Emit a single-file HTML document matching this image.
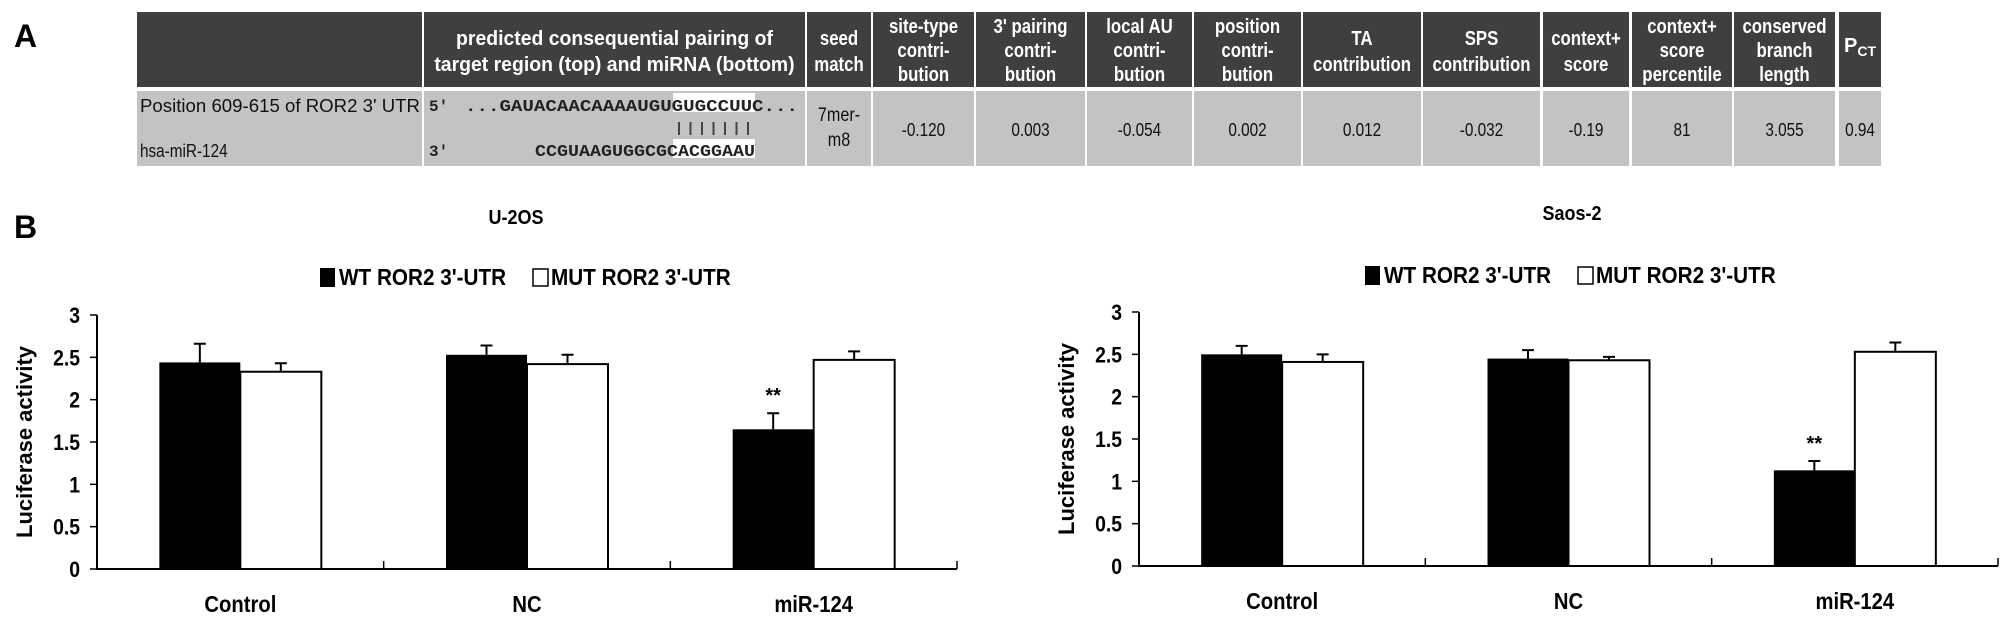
<!DOCTYPE html>
<html><head><meta charset="utf-8"><style>
html,body{margin:0;padding:0;background:#fff;}
svg{display:block;font-family:"Liberation Sans",Arial,sans-serif;}
</style></head><body>
<svg id="fig" width="2008" height="625" viewBox="0 0 2008 625" xmlns="http://www.w3.org/2000/svg">
<text x="14" y="47" font-size="32" font-weight="bold">A</text>
<g id="table"></g>
<text x="14" y="238" font-size="32" font-weight="bold">B</text>
<g id="chart1"></g>
<g id="chart2"></g>
</svg>
<script>
const categories = ["Control", "NC", "miR-124"];
const seriesNames = ["WT ROR2 3'-UTR", "MUT ROR2 3'-UTR"];
const u2osWT = [2.44, 2.53, 1.65];
const u2osWTErr = [0.22, 0.11, 0.19];
const u2osMUT = [2.33, 2.42, 2.47];
const u2osMUTErr = [0.10, 0.11, 0.10];
const saosWT = [2.50, 2.45, 1.13];
const saosWTErr = [0.10, 0.10, 0.11];
const saosMUT = [2.41, 2.43, 2.53];
const saosMUTErr = [0.09, 0.04, 0.11];
const yTicks = ["0", "0.5", "1", "1.5", "2", "2.5", "3"];
const sigMarks = ["", "", "**"];

const NS = "http://www.w3.org/2000/svg";
function mk(tag, attrs, parent, txt) {
  const e = document.createElementNS(NS, tag);
  for (const k in attrs) e.setAttribute(k, attrs[k]);
  if (txt !== undefined) e.textContent = txt;
  parent.appendChild(e);
  return e;
}
function condense(t, f, maxW) {
  const w = t.getComputedTextLength();
  let nw = w * f;
  if (maxW && nw > maxW) nw = maxW;
  t.setAttribute('textLength', nw.toFixed(1));
  t.setAttribute('lengthAdjust', 'spacingAndGlyphs');
}

/* ---------- TABLE ---------- */
const tg = document.getElementById('table');
const cols = [[137,422],[424,805],[807,871],[873,974],[976,1085],[1087,1192],[1194,1301],[1303,1421],[1423,1540],[1543,1629],[1632,1732],[1734,1835],[1839,1881]];
const headers = [[], ["predicted consequential pairing of","target region (top) and miRNA (bottom)"], ["seed","match"],
 ["site-type","contri-","bution"],["3' pairing","contri-","bution"],["local AU","contri-","bution"],["position","contri-","bution"],
 ["TA","contribution"],["SPS","contribution"],["context+","score"],["context+","score","percentile"],["conserved","branch","length"],["P"]];
const values = [null,null,null,"-0.120","0.003","-0.054","0.002","0.012","-0.032","-0.19","81","3.055","0.94"];
cols.forEach((c,i)=>{
  const h = mk('rect',{x:c[0],y:12,width:c[1]-c[0],height:75,fill:'#3f3f3f'},tg);
  
  
  const r = mk('rect',{x:c[0],y:91,width:c[1]-c[0],height:75,fill:'#c3c3c3'},tg);
  
  
  const cx=(c[0]+c[1])/2;
  const lines=headers[i];
  const n=lines.length;
  const startY = n===3 ? 33 : (n===2 ? 45 : 52);
  lines.forEach((l,j)=>{
    const t = mk('text',{x:cx,y:startY+j*(n===3?24:26),'font-size':20,'font-weight':'bold',fill:'#fff','text-anchor':'middle'},tg,l);
    
    
    if(i===12){ mk('tspan',{'font-size':14,dy:4},t,'CT'); }
    else condense(t, i===1 ? 0.97 : 0.84, c[1]-c[0]-3);
  });
  if(values[i]){
    const v = mk('text',{x:cx,y:136,'font-size':18,fill:'#111','text-anchor':'middle'},tg,values[i]);
    
    
    condense(v, 0.85);
  }
});
const seedT = mk('text',{x:839,y:121,'font-size':19,fill:'#111','text-anchor':'middle'},tg,'7mer-');
 
condense(seedT,0.85);
const m8 = mk('text',{x:839,y:146,'font-size':19,fill:'#111','text-anchor':'middle'},tg,'m8');
condense(m8,0.85);
const p1 = mk('text',{x:140,y:112,'font-size':18,fill:'#111',textLength:280,lengthAdjust:'spacingAndGlyphs'},tg,"Position 609-615 of ROR2 3' UTR");
 
const p2 = mk('text',{x:140,y:157,'font-size':18,fill:'#111'},tg,"hsa-miR-124");
 
condense(p2,0.85);
mk('rect',{x:673,y:93,width:82,height:19,fill:'#fff'},tg);
mk('rect',{x:673,y:139,width:82,height:19,fill:'#fff'},tg);
mk('text',{x:429,y:111,'font-size':16,'font-family':'Liberation Mono,monospace','font-weight':'bold',fill:'#222'},tg,"5'");
mk('text',{x:429,y:156,'font-size':16,'font-family':'Liberation Mono,monospace','font-weight':'bold',fill:'#222'},tg,"3'");
const s1 = mk('text',{x:465,y:111,'font-size':17,'font-family':'Liberation Mono,monospace','font-weight':'bold',fill:'#222',textLength:333,lengthAdjust:'spacingAndGlyphs'},tg,"...GAUACAACAAAAUGUGUGCCUUC...");
 
const s2 = mk('text',{x:535,y:156,'font-size':17,'font-family':'Liberation Mono,monospace','font-weight':'bold',fill:'#222',textLength:220,lengthAdjust:'spacingAndGlyphs'},tg,"CCGUAAGUGGCGCACGGAAU");
 
for(let k=0;k<7;k++){ mk('rect',{x:678+k*11.5,y:122,width:2,height:13,fill:'#444'},tg); }

/* ---------- CHARTS ---------- */
function drawChart(gid, o, wt, wtErr, mut, mutErr, title) {
  const g = document.getElementById(gid);
  const y = v => o.y0 - v*(o.y0-o.y3)/3;
  const gw = (o.x1-o.x0)/categories.length;
  const bw = 81;
  const tt = mk('text',{x:o.tx,y:o.ty,'font-size':20,'font-weight':'bold','text-anchor':'middle'},g,title);
   
  condense(tt,0.9);
  const lg = mk('g',{},g);
   
  mk('rect',{x:o.lx,y:o.ly-17,width:15,height:19,fill:'#000'},lg);
  const l1 = mk('text',{x:o.lx+19,y:o.ly,'font-size':23,'font-weight':'bold'},lg,seriesNames[0]);
   
  condense(l1,0.9);
  mk('rect',{x:o.lx+213,y:o.ly-16,width:15,height:17,fill:'#fff',stroke:'#000','stroke-width':1.5},lg);
  const l2 = mk('text',{x:o.lx+231,y:o.ly,'font-size':23,'font-weight':'bold'},lg,seriesNames[1]);
   
  condense(l2,0.9);
  const yt = mk('text',{x:0,y:0,'font-size':22,'font-weight':'bold','text-anchor':'middle',transform:`translate(${o.yx},${(o.y0+o.y3)/2}) rotate(-90)`},g,'Luciferase activity');
   
  yTicks.forEach(t=>{
    const v=parseFloat(t);
    mk('line',{x1:o.x0-7,x2:o.x0,y1:y(v),y2:y(v),stroke:'#000','stroke-width':1.5},g);
    const tl = mk('text',{x:o.x0-17,y:y(v)+8,'font-size':22,'font-weight':'bold','text-anchor':'end'},g,t);
     
    condense(tl,0.88);
  });
  categories.forEach((c,i)=>{
    const cx = o.x0 + gw*(i+0.5);
    const b1 = mk('rect',{x:cx-bw,y:y(wt[i]),width:bw,height:y(0)-y(wt[i]),fill:'#000'},g);
     
    const b2 = mk('rect',{x:cx,y:y(mut[i]),width:bw,height:y(0)-y(mut[i]),fill:'#fff',stroke:'#000','stroke-width':2},g);
     
    [[cx-bw/2,wt[i],wtErr[i]],[cx+bw/2,mut[i],mutErr[i]]].forEach(e=>{
      const eb = mk('path',{d:`M${e[0]} ${y(e[1])} V${y(e[1]+e[2])} M${e[0]-6} ${y(e[1]+e[2])} H${e[0]+6}`,stroke:'#000','stroke-width':2,fill:'none'},g);
       
    });
    if(sigMarks[i]){
      const sm = mk('text',{x:cx-bw/2,y:y(wt[i]+wtErr[i])-11,'font-size':20,'font-weight':'bold','text-anchor':'middle'},g,sigMarks[i]);
       
    }
    const xl = mk('text',{x:cx,y:o.cy,'font-size':23,'font-weight':'bold','text-anchor':'middle'},g,c);
     
    condense(xl,0.88);
    mk('line',{x1:o.x0+gw*(i+1),x2:o.x0+gw*(i+1),y1:y(0),y2:y(0)-8,stroke:'#000','stroke-width':1.5},g);
  });
  const ax = mk('path',{d:`M${o.x0} ${y(3)} V${y(0)} H${o.x1}`,stroke:'#000','stroke-width':2,fill:'none'},g);
   
}
drawChart('chart1',{x0:97,x1:957,y0:569,y3:315,tx:516,ty:224,lx:320,ly:285,yx:32,cy:612},u2osWT,u2osWTErr,u2osMUT,u2osMUTErr,'U-2OS');
drawChart('chart2',{x0:1139,x1:1998,y0:566,y3:312,tx:1572,ty:220,lx:1365,ly:283,yx:1074,cy:609},saosWT,saosWTErr,saosMUT,saosMUTErr,'Saos-2');
</script>
</body></html>
